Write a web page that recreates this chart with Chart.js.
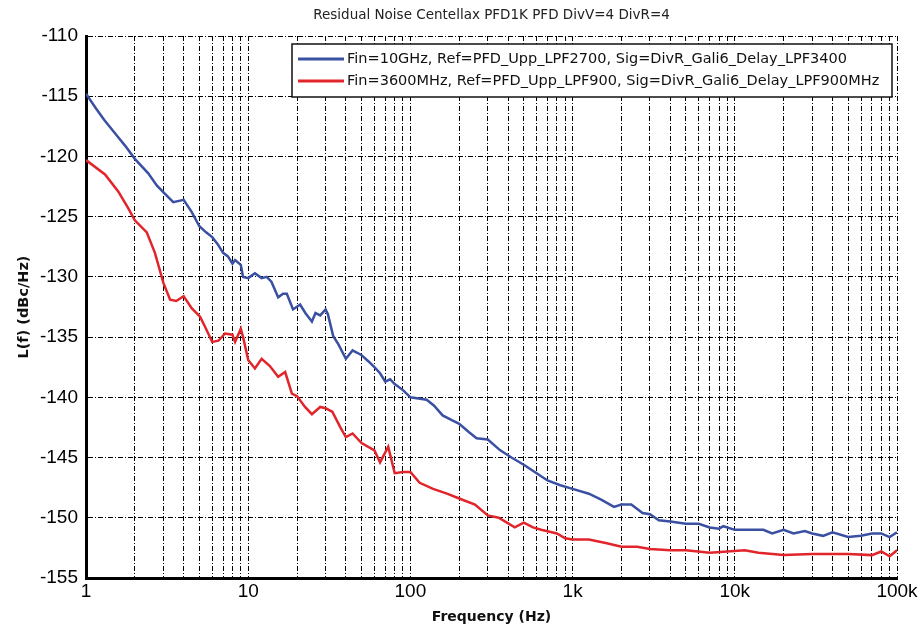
<!DOCTYPE html>
<html>
<head>
<meta charset="utf-8">
<script src="https://cdn.jsdelivr.net/npm/chart.js@4.4.1/dist/chart.umd.min.js"></script>
<style>
  html, body { margin: 0; padding: 0; background: #fff; }
  #wrap { width: 921px; height: 631px; }
</style>
</head>
<body>
<div id="wrap"><canvas id="noiseChart" width="921" height="631"></canvas></div>
<script>
const chartTitle = 'Residual Noise Centellax PFD1K PFD DivV=4 DivR=4';
const seriesNames = [
  'Fin=10GHz, Ref=PFD_Upp_LPF2700, Sig=DivR_Gali6_Delay_LPF3400',
  'Fin=3600MHz, Ref=PFD_Upp_LPF900, Sig=DivR_Gali6_Delay_LPF900MHz'
];
const decadeValues = [1, 10, 100, 1000, 10000, 100000];
const decadeLabels = ['1', '10', '100', '1k', '10k', '100k'];
const yTicks = [-155, -150, -145, -140, -135, -130, -125, -120, -115, -110];

const blueFreq = [1, 1.15, 1.3, 1.58, 1.74, 2, 2.42, 2.73, 3.07, 3.45, 4, 4.48, 5, 5.5, 6, 6.5, 7, 7.5, 8, 8.3, 9, 9.3, 10,
  11, 12.1, 13, 13.9, 15.3, 16.4, 17.3, 18.9, 20.9, 22.5, 24.7, 26, 27.8, 30, 31, 33.4, 36, 40, 44, 47, 50, 55, 60, 65, 70, 75, 80, 90,
  100, 126, 140, 158, 180, 200, 230, 256, 300, 358, 420, 500, 600, 700, 840, 1000, 1260, 1500, 1800, 2000, 2300, 2700, 3000,
  3400, 4000, 5000, 6000, 7000, 8000, 8500, 10000, 12000, 15000, 17000, 20000, 23000, 27000, 30000, 35000, 40000, 50000,
  60000, 70000, 80000, 90000, 100000];
const blueLevel = [-114.8, -116.0, -117.0, -118.4, -119.1, -120.2, -121.4, -122.4, -123.1, -123.8, -123.6, -124.6, -125.8, -126.3, -126.7, -127.3, -128.0, -128.3, -128.9, -128.6, -129.0, -130.0, -130.1,
  -129.7, -130.1, -130.0, -130.4, -131.7, -131.4, -131.4, -132.7, -132.3, -133.0, -133.7, -133.0, -133.2, -132.7, -133.1, -134.9, -135.6, -136.8, -136.1, -136.3, -136.5, -137.0, -137.5, -138.0, -138.7, -138.5, -138.9, -139.4,
  -140.0, -140.2, -140.7, -141.5, -141.9, -142.2, -142.9, -143.4, -143.5, -144.4, -145.0, -145.6, -146.3, -146.9, -147.3, -147.6, -148.0, -148.5, -149.1, -148.9, -148.9, -149.6, -149.7,
  -150.2, -150.3, -150.5, -150.5, -150.8, -150.9, -150.7, -151.0, -151.0, -151.0, -151.3, -151.0, -151.3, -151.1, -151.3, -151.5, -151.2, -151.6,
  -151.5, -151.3, -151.3, -151.6, -151.2];

const redFreq = [1, 1.31, 1.58, 1.82, 2, 2.37, 2.66, 3, 3.3, 3.6, 4, 4.48, 5.05, 5.4, 6, 6.55, 7.2, 8, 8.3, 9, 9.3, 10,
  11, 12.1, 13.6, 15.3, 16.9, 18.6, 20, 22.4, 24.7, 27.8, 30, 33, 37, 40, 44, 50, 60, 65, 73, 80, 90, 100,
  114, 138, 168, 200, 250, 300, 350, 440, 500, 570, 640, 800, 900, 1000, 1260, 1600, 2000, 2500, 3000, 4000, 5000,
  7000, 9000, 11500, 14000, 20000, 30000, 40000, 50000, 70000, 80000, 90000, 100000];
const redLevel = [-120.3, -121.5, -122.9, -124.3, -125.3, -126.3, -128.0, -130.5, -131.9, -132.0, -131.6, -132.6, -133.3, -134.1, -135.4, -135.3, -134.7, -134.8, -135.4, -134.3, -135.0, -136.9,
  -137.6, -136.8, -137.4, -138.3, -137.9, -139.7, -139.9, -140.8, -141.4, -140.8, -140.9, -141.2, -142.5, -143.3, -143.0, -143.8, -144.4, -145.4, -144.1, -146.3, -146.2, -146.2,
  -147.1, -147.6, -148.0, -148.4, -148.9, -149.8, -150.0, -150.8, -150.4, -150.8, -151.0, -151.3, -151.7, -151.8, -151.8, -152.1, -152.4, -152.4, -152.6, -152.7, -152.7,
  -152.9, -152.8, -152.7, -152.9, -153.1, -153.0, -153.0, -153.0, -153.1, -152.8, -153.2, -152.7];

const lineColors = ['#3a50a2', '#e1252b'];

function toPoints(xs, ys) {
  return xs.map((x, i) => ({ x: x, y: ys[i] }));
}

// boxed legend drawn inside the plot, top right
const boxLegend = {
  id: 'boxLegend',
  afterDatasetsDraw(chart) {
    const { ctx, chartArea } = chart;
    const w = 600, h = 53;
    const x0 = chartArea.right - 5 - w;
    const y0 = chartArea.top + 8;
    ctx.save();
    ctx.fillStyle = '#fff';
    ctx.fillRect(x0, y0, w, h);
    ctx.strokeStyle = '#111';
    ctx.lineWidth = 1.5;
    ctx.strokeRect(x0, y0, w, h);
    ctx.font = '14.5px "DejaVu Sans"';
    ctx.textBaseline = 'middle';
    chart.data.datasets.forEach((ds, i) => {
      const yy = y0 + 15 + i * 22;
      ctx.strokeStyle = ds.borderColor;
      ctx.lineWidth = 3;
      ctx.beginPath();
      ctx.moveTo(x0 + 6, yy);
      ctx.lineTo(x0 + 52, yy);
      ctx.stroke();
      ctx.fillStyle = '#111';
      ctx.fillText(ds.label, x0 + 55, yy);
    });
    ctx.restore();
  }
};

const ctx = document.getElementById('noiseChart').getContext('2d');
window.chart = new Chart(ctx, {
  type: 'line',
  data: {
    datasets: [
      { label: seriesNames[0], data: toPoints(blueFreq, blueLevel), borderColor: lineColors[0], borderWidth: 2.5, pointRadius: 0, tension: 0 },
      { label: seriesNames[1], data: toPoints(redFreq, redLevel), borderColor: lineColors[1], borderWidth: 2.5, pointRadius: 0, tension: 0 }
    ]
  },
  options: {
    responsive: false,
    animation: false,
    layout: { padding: { left: 0, right: 24, top: 0, bottom: 0 } },
    plugins: {
      legend: { display: false },
      tooltip: { enabled: false },
      title: {
        display: true,
        text: chartTitle,
        fullSize: false,
        color: '#222',
        font: { family: '"DejaVu Sans"', size: 13.5, weight: 'normal' },
        padding: { top: 6.9, bottom: 12.9 }
      }
    },
    scales: {
      x: {
        type: 'logarithmic',
        min: 1,
        max: 100000,
        afterFit(scale) { scale.height = 53; },
        afterBuildTicks(scale) {
          const ticks = [];
          decadeValues.forEach(d => {
            for (let k = 1; k <= 9; k++) {
              if (d * k <= 100000) ticks.push({ value: d * k });
            }
          });
          scale.ticks = ticks;
        },
        ticks: {
          autoSkip: false,
          maxRotation: 0,
          padding: 2,
          color: '#000',
          font: { family: '"Liberation Sans"', size: 19 },
          callback(value) {
            const i = decadeValues.indexOf(value);
            return i >= 0 ? decadeLabels[i] : '';
          }
        },
        grid: { color: '#000', lineWidth: 1, drawTicks: false },
        border: { color: '#000', width: 3, dash: [5, 2, 1, 2] },
        title: {
          display: true,
          text: 'Frequency (Hz)',
          color: '#111',
          font: { family: '"DejaVu Sans"', size: 14, weight: 'bold' },
          padding: { top: 0, bottom: 5 }
        }
      },
      y: {
        min: -155,
        max: -110,
        afterFit(scale) { scale.width = 86; },
        afterBuildTicks(scale) {
          scale.ticks = yTicks.map(v => ({ value: v }));
        },
        ticks: {
          padding: 8,
          color: '#000',
          font: { family: '"Liberation Sans"', size: 19 }
        },
        grid: { color: '#000', lineWidth: 1, drawTicks: false },
        border: { color: '#000', width: 3, dash: [5, 2, 1, 2] },
        title: {
          display: true,
          text: 'L(f) (dBc/Hz)',
          color: '#111',
          font: { family: '"DejaVu Sans"', size: 14.5, weight: 'bold' },
          padding: { top: 16, bottom: 0 }
        }
      }
    }
  },
  plugins: [boxLegend]
});
</script>
</body>
</html>
